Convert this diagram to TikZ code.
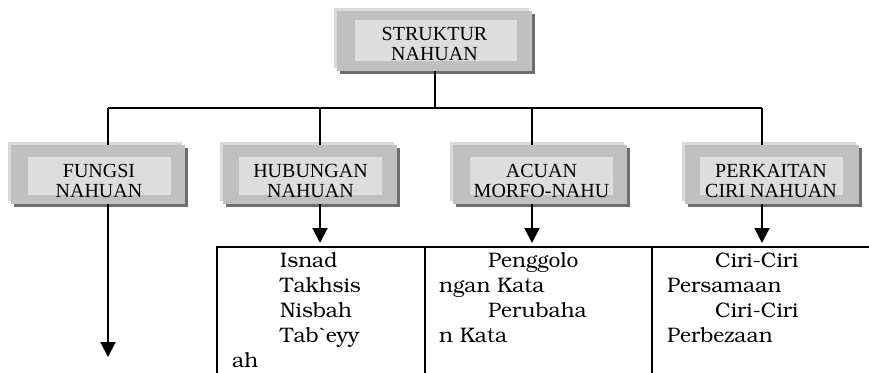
\documentclass[tikz,border=0pt]{standalone}
\usepackage[T1]{fontenc}
\usepackage{fontspec}
\setmainfont{Liberation Serif}
\usetikzlibrary{arrows.meta,shadows}
\definecolor{boxgray}{HTML}{C0C0C0}
\definecolor{boxinner}{HTML}{DDDDDD}
\definecolor{boxshade}{HTML}{6E6E6E}
\definecolor{boxlight}{HTML}{D9D9D9}
\newcommand\bkfont{\fontencoding{T1}\fontfamily{pbk}\selectfont}
\tikzset{
  outerbox/.style={fill=boxgray, minimum width=174pt, minimum height=59pt, inner sep=0pt,
    general shadow={fill=boxlight, shadow xshift=-3pt, shadow yshift=3pt},
    drop shadow={fill=boxshade, opacity=1, shadow xshift=3pt, shadow yshift=-3pt}},
  innerbox/.style={fill=boxinner, minimum width=143pt, minimum height=38pt, inner sep=0pt},
  boxtxt/.style={align=center, inner sep=0pt, font=\fontsize{20}{20}\selectfont},
  link/.style={line width=2pt},
  arr/.style={line width=2pt, -{Triangle[width=15pt,length=15pt]}},
  celltxt/.style={anchor=base west, inner sep=0pt, font=\bkfont\fontsize{21}{25}\selectfont}
}
\begin{document}
\begin{tikzpicture}[x=1pt,y=-1pt]
  \useasboundingbox (0,0) rectangle (869,372);
  % boxes
  \node[outerbox, minimum width=195pt, minimum height=60pt] (struktur) at (434.5,41) {};
  \node[innerbox, minimum width=162pt, minimum height=41pt] (strukturin) at (436,40.5) {};
  \node[boxtxt] (strukturtxt) at (434.5,43.5) {STRUKTUR\\NAHUAN};
  \node[outerbox] (fungsi) at (97.5,174.5) {};
  \node[innerbox] (fungsiin) at (99.5,176) {};
  \node[boxtxt] (fungsitxt) at (99,181) {FUNGSI\\NAHUAN};
  \node[outerbox] (hubungan) at (309.5,174.5) {};
  \node[innerbox] (hubunganin) at (310.5,176) {};
  \node[boxtxt] (hubungantxt) at (310.5,181) {HUBUNGAN\\NAHUAN};
  \node[outerbox] (acuan) at (540,174.5) {};
  \node[innerbox] (acuanin) at (541.5,176) {};
  \node[boxtxt] (acuantxt) at (541.5,181) {ACUAN\\MORFO-NAHU};
  \node[outerbox] (perkaitan) at (771.5,174.5) {};
  \node[innerbox] (perkaitanin) at (771,176) {};
  \node[boxtxt] (perkaitantxt) at (771,181) {PERKAITAN\\CIRI NAHUAN};
  % tree lines
  \coordinate (barL) at (108,108);
  \coordinate (barH) at (320,108);
  \coordinate (barA) at (532,108);
  \coordinate (barR) at (762,108);
  \draw[link] (struktur.south) -- (struktur.south |- barL);
  \draw[link] (barL) -- (barR);
  \foreach \c/\b in {barL/fungsi, barH/hubungan, barA/acuan, barR/perkaitan} {
    \draw[link] (\c) -- (\c |- \b.north);
  }
  % arrows
  \coordinate (fungsitip) at (108,357);
  \coordinate (hubungantip) at (320,243);
  \coordinate (acuantip) at (532,243);
  \coordinate (perkaitantip) at (762,243);
  \foreach \b in {fungsi, hubungan, acuan, perkaitan} {
    \draw[arr] (\b tip |- \b.south) -- (\b tip);
  }
  % table
  \draw[link] (217,373) -- (217,247) -- (869,247);
  \foreach \x in {425,652} {
    \draw[link] (\x,247) -- (\x,373);
  }
  \foreach \x/\y/\t [count=\i] in {280/267/Isnad, 280/292/Takhsis, 280/317/Nisbah,
      280/342/Tab\`{}eyy, 232/367/ah,
      488/267/Penggolo, 439/292/ngan Kata, 488/317/Perubaha, 439/342/n Kata,
      715/267/Ciri-Ciri, 667/292/Persamaan, 715/317/Ciri-Ciri, 667/342/Perbezaan} {
    \node[celltxt] (cell\i) at (\x,\y) {\t};
  }
\end{tikzpicture}
\end{document}
